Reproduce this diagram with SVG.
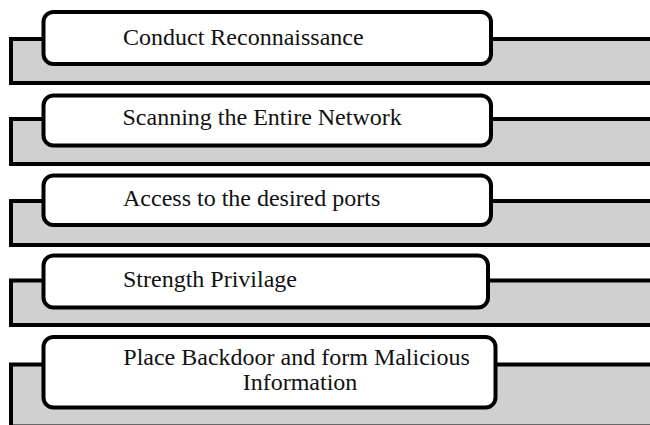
<svg xmlns="http://www.w3.org/2000/svg" width="650" height="425" viewBox="0 0 650 425">
<style>
.band{fill:#d0d0d0;stroke:#000;stroke-width:4}
.box{fill:#fff;stroke:#000;stroke-width:4}
.lbl{font-family:"Liberation Serif","Times New Roman",serif;font-size:24px;fill:#111}
</style>
<rect width="650" height="425" fill="#fff"/>
<g id="connectors"></g>
<g id="step1">
<rect class="band" x="11" y="39" width="660" height="44"/>
<rect class="box" x="43.5" y="12" width="447.5" height="52" rx="10"/>
<text class="lbl" x="123" y="45">Conduct Reconnaissance</text>
</g>
<g id="step2">
<rect class="band" x="11" y="119" width="660" height="45"/>
<rect class="box" x="43.5" y="95.5" width="447.5" height="50" rx="10"/>
<text class="lbl" x="122.5" y="125">Scanning the Entire Network</text>
</g>
<g id="step3">
<rect class="band" x="11" y="201" width="660" height="44"/>
<rect class="box" x="43.5" y="175.5" width="447.5" height="49.5" rx="10"/>
<text class="lbl" x="123" y="206">Access to the desired ports</text>
</g>
<g id="step4">
<rect class="band" x="11" y="280.5" width="660" height="44.5"/>
<rect class="box" x="43.5" y="255.5" width="444.5" height="52" rx="10"/>
<text class="lbl" x="123" y="286.5">Strength Privilage</text>
</g>
<g id="step5">
<rect class="band" x="11" y="364.5" width="660" height="62"/>
<rect class="box" x="43.5" y="337" width="452" height="70.5" rx="10"/>
<text class="lbl" x="123.3" y="365">Place Backdoor and form Malicious</text>
<text class="lbl" x="300" y="390" text-anchor="middle">Information</text>
</g>
</svg>
